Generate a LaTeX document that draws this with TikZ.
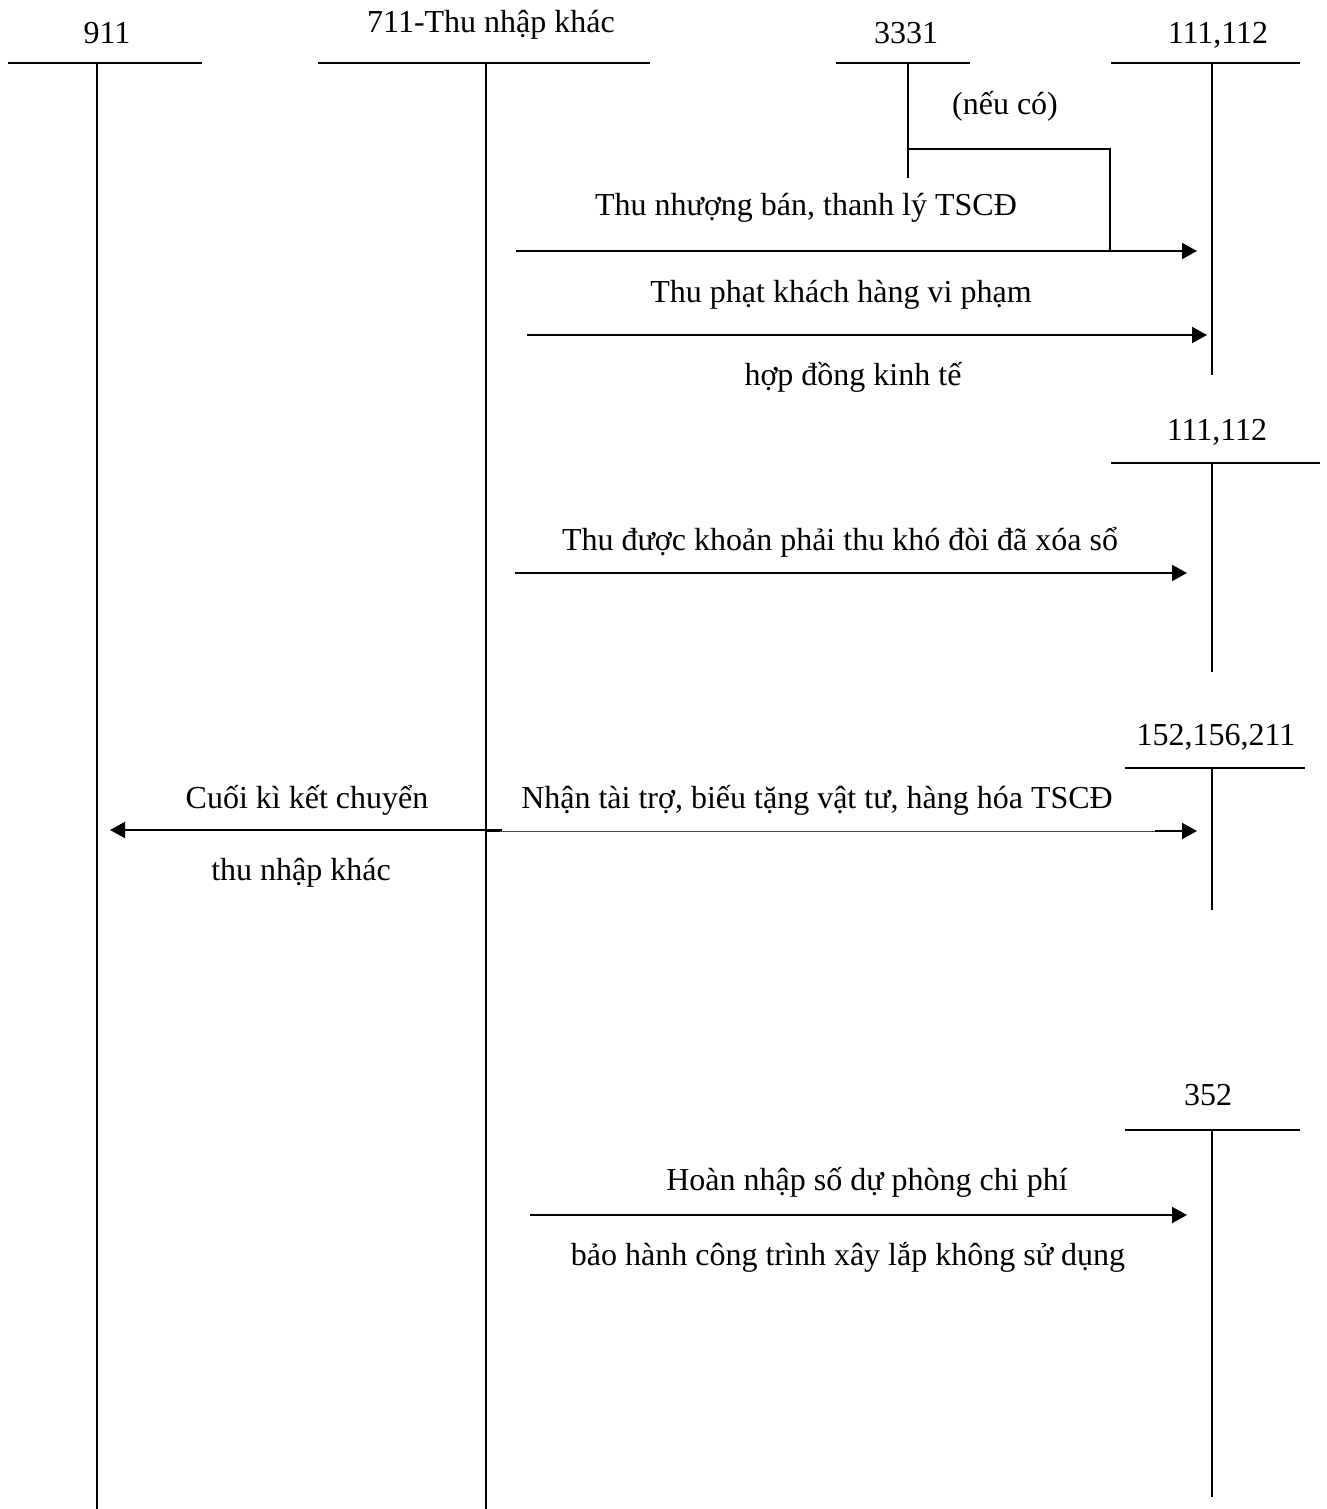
\documentclass[tikz,border=0pt]{standalone}
\usepackage{fontspec}
\setmainfont{Liberation Serif}
\usetikzlibrary{arrows.meta}
\begin{document}
\begin{tikzpicture}[x=0.5pt,y=-0.5pt,
  acct/.style={line width=1pt},
  flow/.style={line width=1pt,-{Triangle[length=7.5pt,width=8pt]}},
  thinflow/.style={line width=0.45pt,draw=black!70},
  stub/.style={line width=1.4pt,draw=black!75},
  lbl/.style={anchor=base,inner sep=0pt,font=\fontsize{16}{19}\selectfont},
]
\useasboundingbox (0,0) rectangle (1327,1509);

% ---------- T-accounts ----------
% 911
\coordinate (a911L) at (8,63);   \coordinate (a911R) at (202,63);
\coordinate (a911T) at (97,63);  \coordinate (a911B) at (97,1509);
\draw[acct] (a911L) -- (a911R);  \draw[acct] (a911T) -- (a911B);
\node[lbl] (n911) at (107,44) {911};

% 711
\coordinate (a711L) at (318,63); \coordinate (a711R) at (650,63);
\coordinate (a711T) at (486,63); \coordinate (a711B) at (486,1509);
\draw[acct] (a711L) -- (a711R);  \draw[acct] (a711T) -- (a711B);
\node[lbl] (n711) at (491,33) {711-Thu nhập khác};

% 3331
\coordinate (a3331L) at (836,63); \coordinate (a3331R) at (970,63);
\coordinate (a3331T) at (908,63); \coordinate (a3331B) at (908,178);
\draw[acct] (a3331L) -- (a3331R); \draw[acct] (a3331T) -- (a3331B);
\node[lbl] (n3331) at (906,44) {3331};

% 111,112 (first)
\coordinate (a111L) at (1111,63); \coordinate (a111R) at (1300,63);
\coordinate (a111T) at (1212,63); \coordinate (a111B) at (1212,375);
\draw[acct] (a111L) -- (a111R);   \draw[acct] (a111T) -- (a111B);
\node[lbl] (n111) at (1218,44) {111,112};

% 111,112 (second)
\coordinate (b111L) at (1111,463); \coordinate (b111R) at (1320,463);
\coordinate (b111T) at (1212,463); \coordinate (b111B) at (1212,672);
\draw[acct] (b111L) -- (b111R);    \draw[acct] (b111T) -- (b111B);
\node[lbl] (m111) at (1217,440) {111,112};

% 152,156,211
\coordinate (a152L) at (1125,768); \coordinate (a152R) at (1305,768);
\coordinate (a152T) at (1212,768); \coordinate (a152B) at (1212,910);
\draw[acct] (a152L) -- (a152R);    \draw[acct] (a152T) -- (a152B);
\node[lbl] (n152) at (1216,745) {152,156,211};

% 352
\coordinate (a352L) at (1125,1130); \coordinate (a352R) at (1300,1130);
\coordinate (a352T) at (1212,1130); \coordinate (a352B) at (1212,1497);
\draw[acct] (a352L) -- (a352R);     \draw[acct] (a352T) -- (a352B);
\node[lbl] (n352) at (1208,1105) {352};

% ---------- Flows ----------
% sale of fixed assets, with VAT branch
\coordinate (f1s) at (516,251);  \coordinate (f1e) at (1197,251);
\coordinate (v1) at (908,149);   \coordinate (v2) at (1110,149);
\coordinate (v3) at (1110,251);
\draw[acct] (v1) -- (v2) -- (v3);
\draw[flow] (f1s) -- (f1e);
\node[lbl] (lvat) at (1005,115) {(nếu có)};
\node[lbl] (l1) at (806,215) {Thu nhượng bán, thanh lý TSCĐ};

% penalties
\coordinate (f2s) at (527,335);  \coordinate (f2e) at (1207,335);
\draw[flow] (f2s) -- (f2e);
\node[lbl] (l2a) at (841,302) {Thu phạt khách hàng vi phạm};
\node[lbl] (l2b) at (853,385) {hợp đồng kinh tế};

% bad debts recovered
\coordinate (f3s) at (515,573);  \coordinate (f3e) at (1187,573);
\draw[flow] (f3s) -- (f3e);
\node[lbl] (l3) at (840,550) {Thu được khoản phải thu khó đòi đã xóa sổ};

% donations received
\coordinate (f4s) at (486,831);  \coordinate (f4a) at (500,831);
\coordinate (f4b) at (1155,831); \coordinate (f4e) at (1197,831);
\draw[acct] (f4s) -- (f4a);
\draw[thinflow] (f4a) -- (f4b);
\draw[flow] (f4b) -- (f4e);
\node[lbl] (l4) at (817,808) {Nhận tài trợ, biếu tặng vật tư, hàng hóa TSCĐ};

% closing transfer to 911
\coordinate (f5s) at (502,830);  \coordinate (f5e) at (110,830);
\draw[flow] (f5s) -- (f5e);
\node[lbl] (l5a) at (307,808) {Cuối kì kết chuyển};
\node[lbl] (l5b) at (301,880) {thu nhập khác};

% warranty provision reversal
\coordinate (f6s) at (530,1215); \coordinate (f6a) at (590,1215);
\coordinate (f6e) at (1187,1215);
\draw[stub] (f6s) -- (f6a);
\draw[flow] (f6s) -- (f6e);
\node[lbl] (l6a) at (867,1190) {Hoàn nhập số dự phòng chi phí};
\node[lbl] (l6b) at (848,1265) {bảo hành công trình xây lắp không sử dụng};
\end{tikzpicture}
\end{document}
